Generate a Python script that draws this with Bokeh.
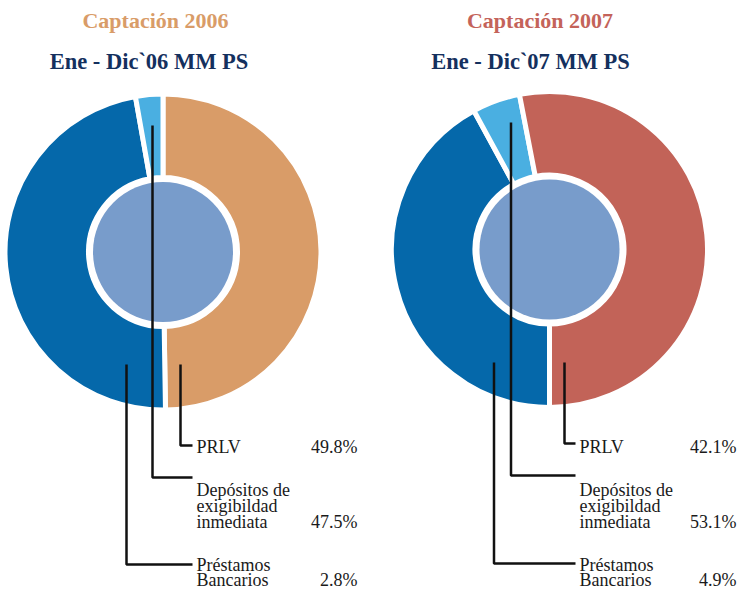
import math
from bokeh.plotting import figure
from bokeh.models import Range1d
from bokeh.core.properties import value
from bokeh.embed import file_html
from bokeh.resources import INLINE

# ---------------- data ----------------
categories = ["PRLV", "Depósitos de exigibildad inmediata", "Préstamos Bancarios"]
label_lines = [["PRLV"], ["Depósitos de", "exigibildad", "inmediata"], ["Préstamos", "Bancarios"]]
values_2006 = [49.8, 47.5, 2.8]
values_2007 = [42.1, 53.1, 4.9]
pct_labels_2006 = ["49.8%", "47.5%", "2.8%"]
pct_labels_2007 = ["42.1%", "53.1%", "4.9%"]
titles = ["Captación 2006", "Captación 2007"]
subtitles = ["Ene - Dic`06 MM PS", "Ene - Dic`07 MM PS"]

# ---------------- styles / layout ----------------
W, H = 745, 590
FONT = "Liberation Serif"
colors_2006 = ["#D99C68", "#0568AA", "#4AAFE1"]   # PRLV, Depósitos, Préstamos
colors_2007 = ["#0568AA", "#C26358", "#4AAFE1"]
order_2006 = [0, 1, 2]      # clockwise from start angle
order_2007 = [0, 2, 1]
start_2006 = 0.0            # degrees clockwise from 12 o'clock
start_2007 = 180.0
title_colors = ["#D99C68", "#C4635A"]
sub_color = "#14305E"
inner_color = "#789CCB"

charts = [
    dict(cx=162.5, cy=251.5, vals=values_2006, cols=colors_2006, order=order_2006,
         start=start_2006, pct=pct_labels_2006, tx=155, sx=148.5,
         lead_x=[180, 152, 126], lead_top=[364, 125, 364], lead_y=[445, 477, 564],
         lab_x=196, pct_x=357),
    dict(cx=549, cy=249, vals=values_2007, cols=colors_2007, order=order_2007,
         start=start_2007, pct=pct_labels_2007, tx=539.5, sx=530,
         lead_x=[564, 510.5, 493.5], lead_top=[362, 122, 362], lead_y=[443, 475, 563],
         lab_x=579, pct_x=736),
]
R_OUT, R_IN, R_DISK = 158, 74.5, 70
line_baselines = [[452], [495, 511.5, 527], [570, 585]]
pct_baselines = [452, 527, 585]
LAB_SIZE = 18
TITLE_SIZE = 22
SUB_SIZE = 22.5

def Y(py):
    return H - py

def base(py, size):
    # compensate the renderer's baseline placement
    return Y(py - 0.33 * size)

p = figure(width=W, height=H, x_range=Range1d(0, W), y_range=Range1d(0, H),
           output_backend="svg", toolbar_location=None, min_border=0)
p.axis.visible = False
p.grid.visible = False
p.outline_line_color = None
p.background_fill_color = "white"

for i, c in enumerate(charts):
    vals = c["vals"]
    total = sum(vals)
    theta = c["start"]
    xs, ys, sa, ea, fc = [], [], [], [], []
    for k in c["order"]:
        span = vals[k] / total * 360.0
        t0, t1 = theta, theta + span
        sa.append(math.radians(90 - t0))
        ea.append(math.radians(90 - t1))
        fc.append(c["cols"][k])
        xs.append(c["cx"]); ys.append(Y(c["cy"]))
        theta = t1
    p.annular_wedge(x=xs, y=ys, inner_radius=R_IN, outer_radius=R_OUT,
                    start_angle=sa, end_angle=ea, direction="clock",
                    fill_color=fc, line_color="white", line_width=5)
    p.circle(x=[c["cx"]], y=[Y(c["cy"])], radius=R_DISK, fill_color=inner_color,
             line_color=None)

    # titles
    p.text(x=[c["tx"]], y=[base(27, TITLE_SIZE)], text=[titles[i]], text_font=value(FONT),
           text_font_size=f"{TITLE_SIZE}px", text_font_style="bold", text_color=title_colors[i],
           text_align="center", text_baseline="alphabetic")
    p.text(x=[c["sx"]], y=[base(68, SUB_SIZE)], text=[subtitles[i]], text_font=value(FONT),
           text_font_size=f"{SUB_SIZE}px", text_font_style="bold", text_color=sub_color,
           text_align="center", text_baseline="alphabetic")

    # leader lines
    for k in range(3):
        lx = c["lead_x"][k]
        p.line(x=[lx, lx, c["lab_x"] - 4], y=[Y(c["lead_top"][k]), Y(c["lead_y"][k]), Y(c["lead_y"][k])],
               line_color="#111111", line_width=2.5)

    # labels
    for k in range(3):
        for j, ln in enumerate(label_lines[k]):
            p.text(x=[c["lab_x"]], y=[base(line_baselines[k][j], LAB_SIZE)], text=[ln],
                   text_font=value(FONT), text_font_size=f"{LAB_SIZE}px", text_color="#1a1a1a",
                   text_align="left", text_baseline="alphabetic")
        p.text(x=[c["pct_x"]], y=[base(pct_baselines[k], LAB_SIZE)], text=[c["pct"][k]],
               text_font=value(FONT), text_font_size=f"{LAB_SIZE}px", text_color="#1a1a1a",
               text_align="right", text_baseline="alphabetic")

open("out.html", "w").write(file_html(p, INLINE))
